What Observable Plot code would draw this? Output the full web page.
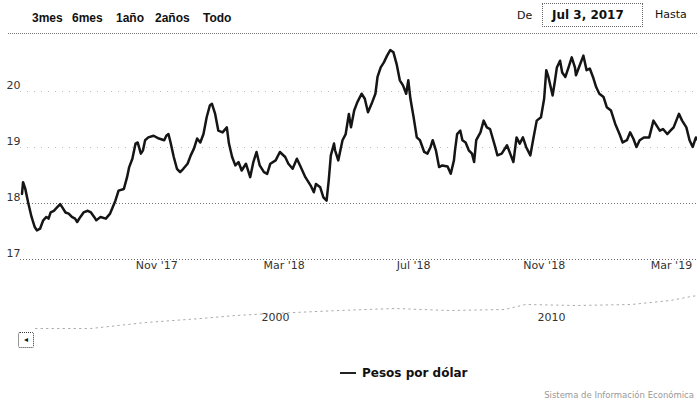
<!DOCTYPE html>
<html><head><meta charset="utf-8">
<script src="https://cdn.jsdelivr.net/npm/d3@7"></script>
<script src="https://cdn.jsdelivr.net/npm/@observablehq/plot@0.6"></script>
<style>
body{margin:0;width:697px;height:402px;overflow:hidden;position:relative;background:#fff;font-family:"DejaVu Sans",sans-serif;color:#111}
.abs{position:absolute;white-space:nowrap;line-height:14px}
.btn{font-family:"Liberation Sans",Arial,sans-serif;font-weight:bold;font-size:12px;top:11px}
</style></head><body>
<div class="abs btn" style="left:32px">3mes</div>
<div class="abs btn" style="left:72px">6mes</div>
<div class="abs btn" style="left:116px">1año</div>
<div class="abs btn" style="left:155px">2años</div>
<div class="abs btn" style="left:203px">Todo</div>
<div class="abs" style="left:517px;top:9px;font-size:11px">De</div>
<div class="abs" style="left:542px;top:3px;width:99px;height:22px;border:1px dotted #666"></div>
<div class="abs" style="left:552px;top:8px;font-size:12px;font-weight:bold">Jul 3, 2017</div>
<div class="abs" style="left:655px;top:8px;font-size:11px">Hasta</div>
<div class="abs" style="left:8px;top:33px;width:689px;border-top:1px dotted #777"></div>
<div id="main" class="abs" style="left:0;top:35px"></div>
<div id="nav" class="abs" style="left:0;top:281px"></div>
<div class="abs" style="left:18px;top:332px;width:14px;height:14px;border:1px dotted #333;border-radius:2px;font-size:8px;line-height:14px;text-align:center">&#9666;</div>
<div class="abs" style="left:340px;top:372px;width:16px;height:2px;background:#222"></div>
<div class="abs" style="left:362px;top:366px;font-size:12px;font-weight:bold">Pesos por dólar</div>
<div class="abs" style="right:3px;top:388px;font-size:8.5px;color:#999">Sistema de Información Económica</div>
<script>
const dates = ["2017-06-27","2017-06-28","2017-06-30","2017-07-03","2017-07-06","2017-07-09","2017-07-11","2017-07-14","2017-07-17","2017-07-20","2017-07-22","2017-07-24","2017-07-27","2017-07-30","2017-08-02","2017-08-04","2017-08-07","2017-08-10","2017-08-13","2017-08-16","2017-08-18","2017-08-21","2017-08-24","2017-08-28","2017-08-31","2017-09-03","2017-09-05","2017-09-07","2017-09-09","2017-09-14","2017-09-18","2017-09-23","2017-09-26","2017-10-01","2017-10-04","2017-10-06","2017-10-09","2017-10-12","2017-10-14","2017-10-17","2017-10-19","2017-10-21","2017-10-24","2017-10-29","2017-11-03","2017-11-08","2017-11-10","2017-11-12","2017-11-14","2017-11-17","2017-11-20","2017-11-23","2017-11-26","2017-11-30","2017-12-03","2017-12-06","2017-12-09","2017-12-12","2017-12-15","2017-12-18","2017-12-21","2017-12-23","2017-12-26","2017-12-29","2018-01-02","2018-01-06","2018-01-08","2018-01-11","2018-01-14","2018-01-17","2018-01-20","2018-01-24","2018-01-28","2018-01-31","2018-02-03","2018-02-06","2018-02-10","2018-02-13","2018-02-16","2018-02-21","2018-02-25","2018-03-02","2018-03-05","2018-03-09","2018-03-13","2018-03-16","2018-03-21","2018-03-26","2018-03-29","2018-03-31","2018-04-04","2018-04-07","2018-04-10","2018-04-12","2018-04-14","2018-04-17","2018-04-18","2018-04-21","2018-04-25","2018-04-28","2018-05-01","2018-05-03","2018-05-06","2018-05-09","2018-05-13","2018-05-16","2018-05-19","2018-05-23","2018-05-26","2018-05-28","2018-05-31","2018-06-03","2018-06-06","2018-06-09","2018-06-12","2018-06-15","2018-06-18","2018-06-21","2018-06-24","2018-06-26","2018-06-28","2018-07-01","2018-07-04","2018-07-07","2018-07-11","2018-07-14","2018-07-17","2018-07-19","2018-07-22","2018-07-25","2018-07-28","2018-08-02","2018-08-05","2018-08-08","2018-08-09","2018-08-11","2018-08-14","2018-08-16","2018-08-19","2018-08-22","2018-08-25","2018-08-27","2018-08-29","2018-09-02","2018-09-05","2018-09-08","2018-09-11","2018-09-15","2018-09-18","2018-09-22","2018-09-27","2018-09-30","2018-10-03","2018-10-06","2018-10-09","2018-10-12","2018-10-15","2018-10-19","2018-10-22","2018-10-25","2018-10-29","2018-11-01","2018-11-03","2018-11-05","2018-11-09","2018-11-11","2018-11-13","2018-11-16","2018-11-18","2018-11-21","2018-11-24","2018-11-27","2018-11-30","2018-12-01","2018-12-05","2018-12-08","2018-12-11","2018-12-14","2018-12-17","2018-12-20","2018-12-23","2018-12-27","2018-12-30","2019-01-03","2019-01-07","2019-01-11","2019-01-14","2019-01-18","2019-01-21","2019-01-24","2019-01-27","2019-01-30","2019-02-03","2019-02-08","2019-02-12","2019-02-15","2019-02-18","2019-02-21","2019-02-25","2019-02-28","2019-03-03","2019-03-08","2019-03-11","2019-03-15","2019-03-18","2019-03-21","2019-03-24","2019-03-26"];
const values = [18.17,18.38,18.27,18.00,17.76,17.58,17.52,17.55,17.70,17.76,17.73,17.84,17.87,17.93,17.99,17.93,17.84,17.82,17.76,17.73,17.67,17.76,17.84,17.87,17.84,17.76,17.70,17.73,17.76,17.73,17.82,18.05,18.23,18.26,18.47,18.65,18.80,19.07,19.09,18.89,18.95,19.13,19.18,19.21,19.16,19.13,19.21,19.24,19.09,18.83,18.62,18.56,18.62,18.71,18.86,18.98,19.16,19.09,19.24,19.54,19.75,19.78,19.60,19.30,19.27,19.36,19.07,18.83,18.68,18.74,18.59,18.71,18.47,18.74,18.92,18.68,18.56,18.53,18.71,18.77,18.92,18.83,18.71,18.62,18.80,18.68,18.47,18.32,18.20,18.35,18.29,18.11,18.05,18.41,18.86,19.07,18.95,18.77,19.13,19.24,19.60,19.36,19.66,19.81,19.96,19.87,19.63,19.81,19.96,20.26,20.43,20.52,20.64,20.74,20.70,20.49,20.20,20.11,19.96,20.20,19.87,19.54,19.18,19.13,18.92,18.89,19.01,19.13,18.95,18.65,18.68,18.66,18.53,18.77,18.95,19.24,19.30,19.13,19.09,18.95,18.89,18.74,19.13,19.27,19.48,19.36,19.33,19.07,18.86,18.89,19.04,18.89,18.74,19.18,19.07,19.18,19.01,18.86,19.18,19.48,19.54,19.87,20.38,20.26,19.93,20.17,20.43,20.55,20.34,20.26,20.43,20.61,20.43,20.29,20.49,20.64,20.38,20.41,20.26,20.08,19.96,19.90,19.72,19.66,19.42,19.24,19.09,19.13,19.27,19.16,19.01,19.13,19.18,19.18,19.48,19.39,19.30,19.33,19.24,19.30,19.36,19.60,19.48,19.36,19.13,19.01,19.18,19.13];
const yTicks = [17, 18, 19, 20];
const xTickDates = ["2017-11-01","2018-03-01","2018-07-01","2018-11-01","2019-03-01"];
const xTickLabels = ["Nov '17","Mar '18","Jul '18","Nov '18","Mar '19"];
const navDates = ["1991-06-01","1993-06-01","1994-10-01","1995-06-01","1997-06-01","1998-09-01","2000-01-01","2002-06-01","2004-06-01","2006-06-01","2008-06-01","2009-03-01","2011-01-01","2013-01-01","2014-06-01","2015-03-01","2015-06-01"];
const navValues = [4.0,4.0,5.6,6.4,8.0,9.2,10.0,11.2,12.0,11.2,11.6,13.6,13.2,13.6,15.2,16.8,17.2];
const navTickDates = ["2000-01-01","2010-01-01"];
const navTickLabels = ["2000","2010"];

const series = dates.map((d, i) => ({date: new Date(d), value: values[i]}));
const xt = xTickDates.map((d, i) => ({date: new Date(d), label: xTickLabels[i]}));
const nav = navDates.map((d, i) => ({date: new Date(d), value: navValues[i]}));
const nt = navTickDates.map((d, i) => ({date: new Date(d), label: navTickLabels[i]}));

const style = {fontFamily: "DejaVu Sans, sans-serif", fontSize: "11px", color: "#333", background: "transparent", overflow: "visible"};

const main = Plot.plot({
  width: 697, height: 246,
  marginLeft: 20, marginRight: 0, marginTop: 0, marginBottom: 22,
  style,
  x: {type: "utc", domain: [new Date(Date.UTC(2017, 5, 25, 14)), new Date(Date.UTC(2019, 2, 25, 12))], axis: null},
  y: {domain: [17, 21], axis: null},
  marks: [
    Plot.ruleY([19, 20], {stroke: "#bbb", strokeDasharray: "1,6"}),
    Plot.ruleY([18], {stroke: "#777", strokeDasharray: "1,2"}),
    Plot.ruleY([17], {stroke: "#666", strokeDasharray: "1,2"}),
    Plot.text(yTicks, {y: d => d, text: d => String(d), frameAnchor: "left", dx: -14, dy: -6, textAnchor: "start", fill: "#333"}),
    Plot.text(xt, {x: "date", text: "label", frameAnchor: "bottom", dy: 9, fill: "#333"}),
    Plot.line(series, {x: "date", y: "value", stroke: "#151515", strokeWidth: 2.5, strokeLinejoin: "round"})
  ]
});
document.getElementById("main").appendChild(main);

const navPlot = Plot.plot({
  width: 697, height: 70,
  marginLeft: 0, marginRight: 0, marginTop: 2, marginBottom: 13,
  style,
  x: {type: "utc", domain: [new Date(Date.UTC(1990, 1, 23)), new Date(Date.UTC(2015, 4, 26))], axis: null},
  y: {domain: [0, 22], axis: null},
  marks: [
    Plot.line(nav, {x: "date", y: "value", stroke: "#aaa", strokeWidth: 1, strokeDasharray: "1.5,4"}),
    Plot.text(nt, {x: "date", text: "label", frameAnchor: "bottom", dy: -18, dx: 3, fill: "#333"})
  ]
});
document.getElementById("nav").appendChild(navPlot);
</script>
</body></html>
